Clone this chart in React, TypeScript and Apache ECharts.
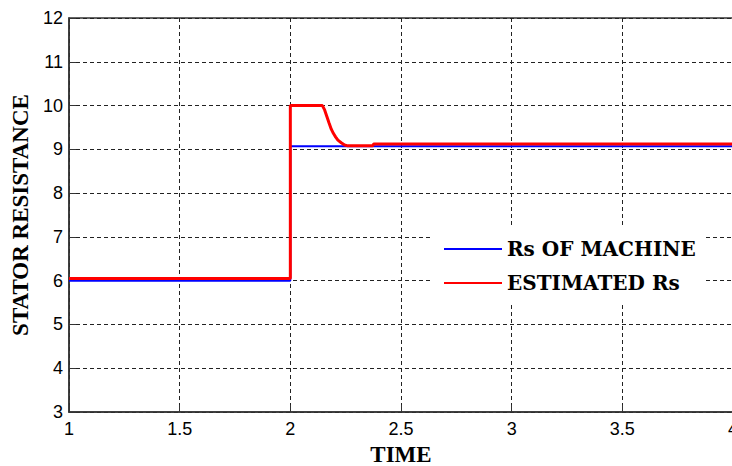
import React, { useEffect, useRef } from "react";
import * as echarts from "echarts";

const seriesNames = ["Rs OF MACHINE", "ESTIMATED Rs"];
const machineRs: [number, number][] = [
  [1, 6.0], [2, 6.0], [2, 9.07], [4, 9.07],
];
const estimatedRs: [number, number][] = [
  [1, 6.05], [2, 6.05], [2, 10.0], [2.145, 10.0], [2.155, 9.9], [2.165, 9.75],
  [2.175, 9.6], [2.185, 9.46], [2.195, 9.36], [2.205, 9.28], [2.215, 9.21],
  [2.23, 9.15], [2.245, 9.1], [2.26, 9.08], [2.372, 9.08], [2.376, 9.12], [4, 9.12],
];
const xTicks = { min: 1, max: 4, interval: 0.5 };
const yTicks = { min: 3, max: 12, interval: 1 };

export default function App() {
  const ref = useRef<HTMLDivElement>(null);
  useEffect(() => {
    document.body.style.margin = "0";
    const chart = echarts.init(ref.current!, null, { renderer: "svg" });
    const tickFont = { fontFamily: "'Liberation Sans', Arial, sans-serif", fontSize: 18, color: "#000" };
    const nameFont = { fontFamily: "'Liberation Serif', 'Times New Roman', serif", fontSize: 23, fontWeight: "bold" as const, color: "#000" };
    const grid = { show: true, type: [4, 3], color: "#222", width: 1 };
    chart.setOption({
      animation: false,
      backgroundColor: "#fff",
      grid: {
        left: 69, top: 18, width: 664, height: 394, containLabel: false, outerBoundsMode: "none",
        show: true, borderColor: "#333", borderWidth: 1.5, backgroundColor: "transparent",
      },
      xAxis: {
        type: "value", ...xTicks,
        name: "TIME", nameLocation: "middle", nameGap: 31, nameTextStyle: nameFont,
        axisLine: { show: true, lineStyle: { color: "#333", width: 1.5 } },
        axisTick: { show: true, inside: true, length: 7, lineStyle: { color: "#333" } },
        axisLabel: { ...tickFont, margin: 8, showMaxLabel: true },
        splitLine: { show: true, lineStyle: grid },
      },
      yAxis: {
        type: "value", ...yTicks,
        name: "STATOR RESISTANCE", nameLocation: "middle", nameGap: 34, nameTextStyle: nameFont,
        axisLine: { show: true, lineStyle: { color: "#333", width: 1.5 } },
        axisTick: { show: true, inside: true, length: 7, lineStyle: { color: "#333" } },
        axisLabel: { ...tickFont, margin: 6 },
        splitLine: { show: true, lineStyle: grid },
      },
      legend: {
        orient: "vertical", left: 433, top: 228,
        padding: [11, 10, 9, 10], itemGap: 14, itemWidth: 58, itemHeight: 14,
        backgroundColor: "#fff", borderWidth: 0,
        itemStyle: { opacity: 0 },
        textStyle: { fontFamily: "'DejaVu Serif', serif", fontWeight: "bold", fontSize: 20, color: "#000" },
        data: seriesNames,
      },
      series: [
        { name: seriesNames[0], type: "line", data: machineRs, symbol: "none", showSymbol: false, lineStyle: { color: "#0000ff", width: 2 }, itemStyle: { color: "#0000ff" } },
        { name: seriesNames[1], type: "line", data: estimatedRs, symbol: "none", showSymbol: false, lineStyle: { color: "#ff0000", width: 3 }, itemStyle: { color: "#ff0000" } },
      ],
    });
    return () => chart.dispose();
  }, []);
  return <div ref={ref} style={{ position: "fixed", left: 0, top: 0, width: 732, height: 466 }} />;
}
